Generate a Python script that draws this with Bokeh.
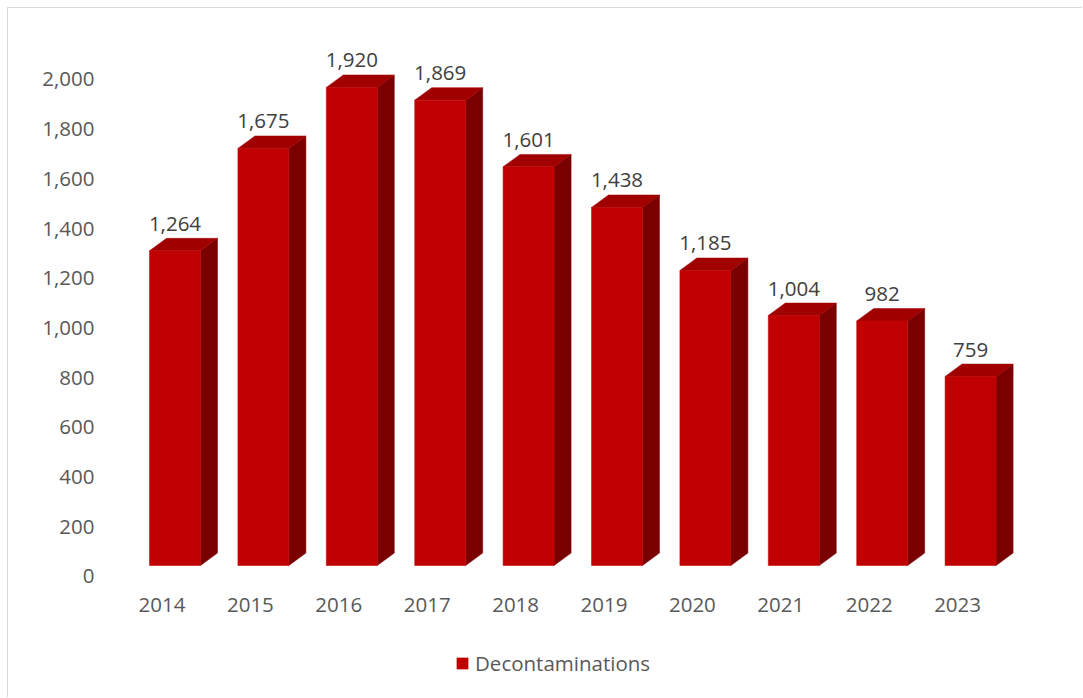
from bokeh.plotting import figure
from bokeh.models import (Range1d, LinearAxis, FixedTicker, Legend, LegendItem,
                          ColumnDataSource, NumeralTickFormatter)
from bokeh.core.properties import value
from bokeh.embed import file_html
from bokeh.resources import INLINE

# ---- data ----
years = ["2014", "2015", "2016", "2017", "2018", "2019", "2020", "2021", "2022", "2023"]
decontaminations = [1264, 1675, 1920, 1869, 1601, 1438, 1185, 1004, 982, 759]
y_ticks = [0, 200, 400, 600, 800, 1000, 1200, 1400, 1600, 1800, 2000]
series_name = "Decontaminations"

# ---- style ----
FONT = value("Open Sans")
FRONT = "#C00000"
TOP = "#A00000"
SIDE = "#7A0000"
HW = 0.2885      # half width of front face (category units)
DX = 0.1923      # depth offset x (category units)
DY = 50.0        # depth offset y (value units)
OFF = 0.147      # front face shift relative to category label
XAXIS_AT = -204.8  # value-space position of the category axis line

idx = list(range(len(years)))
xc = [i + OFF for i in idx]
left = [x - HW for x in xc]
right = [x + HW for x in xc]

src = ColumnDataSource(dict(
    x=xc, left=left, right=right, top=decontaminations,
    bottom=[0] * len(years),
    label=[f"{v:,}" for v in decontaminations],
))
side_src = ColumnDataSource(dict(
    xs=[[r, r + DX, r + DX, r] for r in right],
    ys=[[0, DY, v + DY, v] for v in decontaminations],
))
top_src = ColumnDataSource(dict(
    xs=[[l, l + DX, r + DX, r] for l, r in zip(left, right)],
    ys=[[v, v + DY, v + DY, v] for v in decontaminations],
))

p = figure(width=1075, height=690,
           x_range=Range1d(-0.5826, 9.9378), y_range=Range1d(-502.0, 2092.4),
           output_backend="svg", toolbar_location=None,
           x_axis_location=None, y_axis_location=None,
           min_border_left=102, min_border_right=43,
           min_border_top=36, min_border_bottom=8)
p.styles = {"margin-left": "7px", "margin-top": "7px",
            "border-left": "1px solid #d9d9d9", "border-top": "1px solid #d9d9d9"}
p.xgrid.visible = False
p.ygrid.visible = False
p.outline_line_color = None
p.background_fill_color = "white"
p.border_fill_color = "white"

# value axis on its own range (labels sit slightly below the bar bases)
p.extra_y_ranges = {"ax": Range1d(-458.8, 2140.8)}

yaxis = LinearAxis(y_range_name="ax", ticker=FixedTicker(ticks=y_ticks),
                   formatter=NumeralTickFormatter(format="0,0"))
xaxis = LinearAxis(ticker=FixedTicker(ticks=idx),
                   major_label_overrides={i: y for i, y in zip(idx, years)},
                   fixed_location=XAXIS_AT)
for ax in (yaxis, xaxis):
    ax.axis_line_color = None
    ax.major_tick_line_color = None
    ax.minor_tick_line_color = None
    ax.major_tick_in = 0
    ax.major_tick_out = 0
    ax.major_label_text_font = "Open Sans"
    ax.major_label_text_font_size = "20.5px"
    ax.major_label_text_color = "#595959"
yaxis.major_label_standoff = 16
xaxis.major_label_standoff = 4
p.add_layout(yaxis, "left")
p.add_layout(xaxis, "above")

# 3D bars
p.patches("xs", "ys", source=side_src, fill_color=SIDE, line_color=SIDE, line_width=0.5)
p.patches("xs", "ys", source=top_src, fill_color=TOP, line_color=TOP, line_width=0.5)
front = p.quad(left="left", right="right", bottom="bottom", top="top", source=src,
               fill_color=FRONT, line_color=FRONT, line_width=0.5)

p.text(x="x", y="top", text="label", source=src, text_align="center",
       text_baseline="alphabetic", y_offset=-27, text_font=FONT,
       text_font_size="20.5px", text_color="#404040")

legend = Legend(items=[LegendItem(label=series_name, renderers=[front])],
                location=(345, 13), orientation="horizontal",
                glyph_width=14, glyph_height=14, label_standoff=6,
                padding=0, margin=0, border_line_color=None,
                background_fill_alpha=0,
                label_text_font="Open Sans", label_text_font_size="20.5px",
                label_text_color="#595959")
p.add_layout(legend)

open("out.html", "w").write(file_html(p, INLINE))
